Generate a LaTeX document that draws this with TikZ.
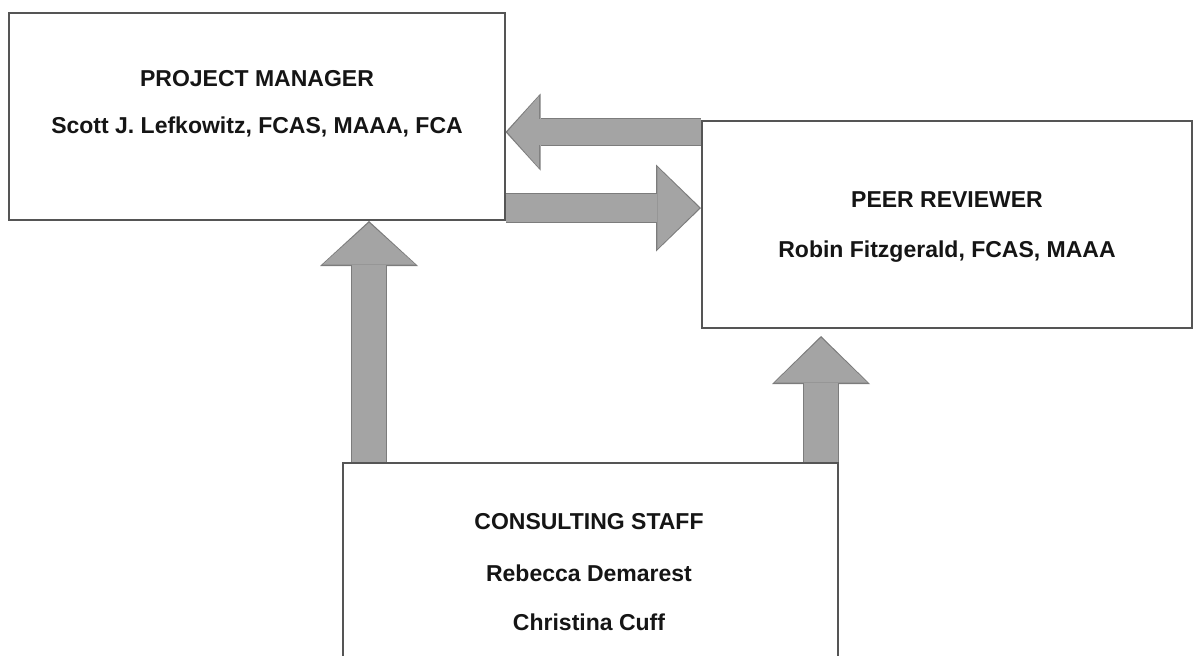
\documentclass[tikz,border=0pt]{standalone}
\usepackage{fontspec}
\setmainfont{Liberation Sans}
\usetikzlibrary{arrows.meta,positioning,calc}
\definecolor{orgtrait}{HTML}{555555}
\definecolor{orgfleche}{HTML}{A4A4A4}
\definecolor{orgbord}{HTML}{7C7C7C}
\definecolor{orgtexte}{HTML}{151515}

\begin{document}
\begin{tikzpicture}[x=0.5pt,y=-0.5pt,font=\bfseries\fontsize{11.5}{13}\selectfont,
  boite/.style={draw=orgtrait,line width=1pt,fill=white,minimum width=248pt,minimum height=103.5pt,inner sep=0pt},
  libelle/.style={text=orgtexte,inner sep=0pt}]
  \useasboundingbox (0,0) rectangle (1193,655);
  \clip (0,0) rectangle (1193,655);
  % the three boxes
  \node[boite] (pm) at (256.5,116.5) {};
  \node[boite,minimum width=245pt] (peer) at (947,224.5) {};
  \node[boite,minimum width=247.5pt] (staff) at (590.5,566.5) {};
  \node[libelle] (pmtitre) at (257,79) {PROJECT MANAGER};
  \node[libelle] (pmnom) at (257,127) {Scott J. Lefkowitz, FCAS, MAAA, FCA};
  \node[libelle] (peertitre) at (947,200) {PEER REVIEWER};
  \node[libelle] (peernom) at (947,252) {Robin Fitzgerald, FCAS, MAAA};
  \node[libelle] (stafftitre) at (589,522) {CONSULTING STAFF};
  \node[libelle] (staffnom1) at (589,573) {Rebecca Demarest};
  \node[libelle] (staffnom2) at (589,622) {Christina Cuff};
  % arrow ends
  \coordinate (r1) at ([yshift=-6pt]peer.north west);
  \coordinate (t1) at (r1 -| pm.east);
  \coordinate (r2) at ([yshift=6.5pt]pm.south east);
  \coordinate (t2) at (r2 -| peer.west);
  \coordinate (s1) at ([xshift=13.5pt]staff.north west);
  \coordinate (t3) at (s1 |- pm.south);
  \coordinate (s2) at ([xshift=-9pt]staff.north east);
  \coordinate (t4) at ($(s2 |- peer.south)+(0,7)$);
  \foreach \a/\b/\w/\l/\h [evaluate=\w as \wi using \w-1.4,
                           evaluate=\l as \li using \l-1.6,
                           evaluate=\h as \hi using \h-2.6] in
      {r1/t1/14/17.5/38.5, r2/t2/15/22.5/43.5, s1/t3/18/22.5/49, s2/t4/18/24/49} {
    \draw[orgbord,line width=\w pt,-{Triangle[line width=0pt,length=\l pt,width=\h pt]}] (\a) -- (\b);
    \draw[orgfleche,line width=\wi pt,shorten >=0.9pt,-{Triangle[line width=0pt,length=\li pt,width=\hi pt]}] (\a) -- (\b);
  }
\end{tikzpicture}
\end{document}
